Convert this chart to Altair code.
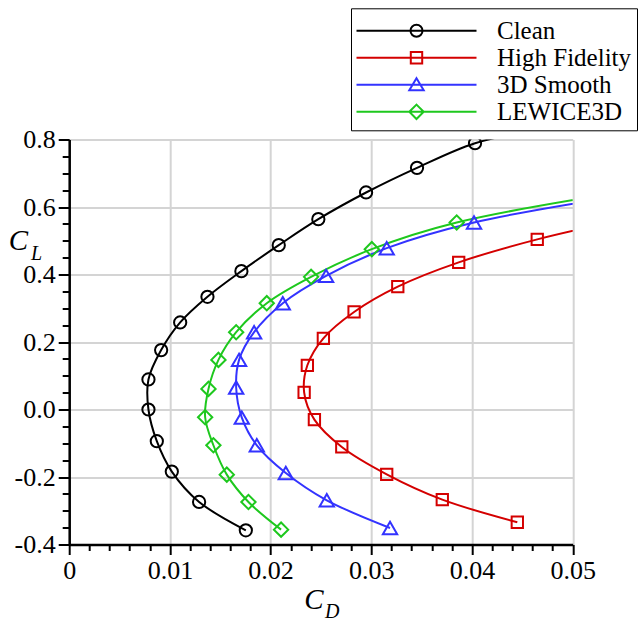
import altair as alt
import pandas as pd

# ---------------- data ----------------
series = ["Clean", "High Fidelity", "3D Smooth", "LEWICE3D"]
colors = ["#000000", "#d40000", "#3333ff", "#1ec81e"]
shapes = ["circle", "square", "triangle-up", "diamond"]
marker_sizes = [150, 128, 205, 205]

clean_cd = [0.01754, 0.01290, 0.01019, 0.00870, 0.00787, 0.00787, 0.00913, 0.01102,
            0.01373, 0.01710, 0.02081, 0.02474, 0.02948, 0.03454, 0.04030, 0.04700]
clean_cl = [-0.358, -0.274, -0.184, -0.094, 0.000, 0.089, 0.176, 0.258,
            0.334, 0.410, 0.487, 0.564, 0.643, 0.716, 0.789, 0.832]

hf_cd = [0.04450, 0.03705, 0.03153, 0.02707, 0.02435, 0.02333, 0.02365, 0.02524,
         0.02829, 0.03263, 0.03868, 0.04648, 0.05500]
hf_cl = [-0.334, -0.267, -0.192, -0.111, -0.030, 0.051, 0.131, 0.211,
         0.289, 0.364, 0.436, 0.504, 0.562]

sm_cd = [0.03186, 0.02558, 0.02151, 0.01863, 0.01714, 0.01658, 0.01687, 0.01836,
         0.02121, 0.02551, 0.03153, 0.04020, 0.05500]
sm_cl = [-0.351, -0.269, -0.188, -0.106, -0.024, 0.065, 0.147, 0.229,
         0.315, 0.396, 0.478, 0.554, 0.634]

lw_cd = [0.02104, 0.01780, 0.01565, 0.01432, 0.01350, 0.01383, 0.01482, 0.01658,
         0.01962, 0.02402, 0.03005, 0.03848, 0.05500]
lw_cl = [-0.356, -0.274, -0.193, -0.106, -0.023, 0.061, 0.147, 0.229,
         0.315, 0.393, 0.475, 0.554, 0.645]

x_major = [0, 0.01, 0.02, 0.03, 0.04, 0.05]
x_minor = [0.002, 0.004, 0.006, 0.008, 0.012, 0.014, 0.016, 0.018,
           0.022, 0.024, 0.026, 0.028, 0.032, 0.034, 0.036, 0.038,
           0.042, 0.044, 0.046, 0.048]
y_major = [-0.4, -0.2, 0.0, 0.2, 0.4, 0.6, 0.8]
y_minor = [-0.35, -0.3, -0.25, -0.15, -0.1, -0.05, 0.05, 0.1, 0.15,
           0.25, 0.3, 0.35, 0.45, 0.5, 0.55, 0.65, 0.7, 0.75]

rows = []
for name, cds, cls in zip(series, [clean_cd, hf_cd, sm_cd, lw_cd],
                          [clean_cl, hf_cl, sm_cl, lw_cl]):
    for i, (a, b) in enumerate(zip(cds, cls)):
        rows.append({"series": name, "idx": i, "CD": a, "CL": b})
df = pd.DataFrame(rows)

# ---------------- styling ----------------
SERIF = "Liberation Serif"
x_scale = alt.Scale(domain=[0, 0.05], nice=False, zero=False)
y_scale = alt.Scale(domain=[-0.4, 0.8], nice=False, zero=False)
color_scale = alt.Scale(domain=series, range=colors)

major_x = alt.Axis(values=x_major, orient="bottom", title=None, grid=True,
                   gridColor="#d4d4d4", gridWidth=2, tickSize=10, tickWidth=2,
                   tickColor="black", domainColor="black", domainWidth=2.5,
                   labelFont=SERIF, labelFontSize=26, labelColor="black",
                   labelPadding=3, labelFlush=False, labelOverlap=False,
                   labelExpr="datum.value == 0 ? '0' : format(datum.value, '.2f')")
major_y = alt.Axis(values=y_major, orient="left", title=None, grid=True,
                   gridColor="#d4d4d4", gridWidth=2, tickSize=11, tickWidth=2,
                   tickColor="black", domainColor="black", domainWidth=2.5,
                   labelFont=SERIF, labelFontSize=26, labelColor="black",
                   labelPadding=3, labelFlush=False, labelOverlap=False,
                   labelExpr="replace(format(datum.value, '.1f'), '\u2212', '-')")
minor_x = alt.Axis(values=x_minor, orient="bottom", title=None, grid=False,
                   labels=False, domain=False, tickSize=6, tickWidth=2,
                   tickColor="black")
minor_y = alt.Axis(values=y_minor, orient="left", title=None, grid=False,
                   labels=False, domain=False, tickSize=7, tickWidth=2,
                   tickColor="black")

legend_paths = {
    "Clean": "M-10,0H10M-1,0A1,1,0,1,1,1,0A1,1,0,1,1,-1,0",
    "High Fidelity": "M-10,0H10M-0.95,-0.95H0.95V0.95H-0.95Z",
    "3D Smooth": "M-10,0H10M0,-1.1L1.2,0.9H-1.2Z",
    "LEWICE3D": "M-10,0H10M0,-1.2L1.2,0L0,1.2L-1.2,0Z",
}
shape_expr = ""
for name in series[:-1]:
    shape_expr += f"datum.value === '{name}' ? '{legend_paths[name]}' : "
shape_expr += f"'{legend_paths[series[-1]]}'"

legend = alt.Legend(
    title=" ", titleFontSize=2, titlePadding=3,
    orient="none", legendX=281.8, legendY=-131.2,
    strokeColor="black", fillColor="white", padding=5,
    labelFont=SERIF, labelFontSize=25, labelColor="black",
    symbolSize=144, symbolStrokeWidth=2, symbolOffset=48, labelOffset=68,
    symbolFillColor="transparent",
    symbolType={"expr": shape_expr},
    rowPadding=1,
)

lines = alt.Chart(df).mark_line(interpolate="catmull-rom", strokeWidth=2, clip=True).encode(
    x=alt.X("CD:Q", scale=x_scale, axis=major_x),
    y=alt.Y("CL:Q", scale=y_scale, axis=major_y),
    color=alt.Color("series:N", scale=color_scale, legend=legend),
    order=alt.Order("idx:Q"),
)

point_layers = []
for k, (name, col, shp, sz) in enumerate(zip(series, colors, shapes, marker_sizes)):
    xa = minor_x if k == 0 else None
    ya = minor_y if k == 0 else None
    point_layers.append(
        alt.Chart(df).transform_filter(alt.datum.series == name).mark_point(
            filled=False, strokeWidth=2, clip=True, opacity=1,
            shape=shp, size=sz, color=col
        ).encode(
            x=alt.X("CD:Q", scale=x_scale, axis=xa),
            y=alt.Y("CL:Q", scale=y_scale, axis=ya),
        )
    )


def title_text(txt, x, y, size, align):
    return alt.Chart(pd.DataFrame({"t": [txt]})).mark_text(
        font=SERIF, fontStyle="italic", fontSize=size, align=align,
        baseline="alphabetic", color="black"
    ).encode(x=alt.value(x), y=alt.value(y), text="t:N")


yl_main = title_text("C", -50.9, 110.5, 29, "center")
yl_sub = title_text("L", -38.2, 120.5, 20, "left")
xl_main = title_text("C", 244.8, 469.5, 29, "center")
xl_sub = title_text("D", 255.8, 478.5, 20, "left")

chart = alt.layer(lines, *point_layers, yl_main, yl_sub, xl_main, xl_sub).resolve_axis(
    x="independent", y="independent"
).properties(
    width=503.5, height=405,
    autosize=alt.AutoSizeParams(type="none"),
    padding={"left": 69.2, "top": 139.5, "right": 67.3, "bottom": 78.5},
    background="white",
).configure_view(stroke=None)

chart.save("out.html", embed_options={"renderer": "svg", "actions": False})
